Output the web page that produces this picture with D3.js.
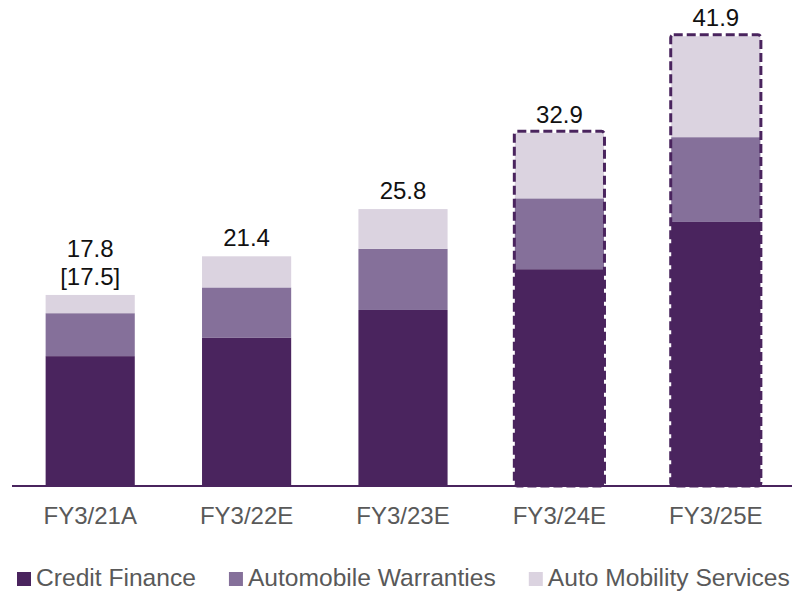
<!DOCTYPE html>
<html>
<head>
<meta charset="utf-8">
<script src="https://cdn.jsdelivr.net/npm/d3@7"></script>
<style>
  body { margin: 0; background: #fff; }
  svg { display: block; font-family: "Liberation Sans", Arial, Helvetica, sans-serif; }
</style>
</head>
<body>
<div id="chart"></div>
<script>
// data
const years = ["FY3/21A", "FY3/22E", "FY3/23E", "FY3/24E", "FY3/25E"];
const creditFinance = [12.1, 13.8, 16.4, 20.2, 24.6];
const autoWarranties = [4.0, 4.7, 5.7, 6.6, 7.9];
const autoMobility = [1.7, 2.9, 3.7, 6.1, 9.4];
const totals = ["17.8", "21.4", "25.8", "32.9", "41.9"];
const subLabels = ["[17.5]", "", "", "", ""];
const forecastBoxed = [false, false, false, true, true];

const seriesNames = ["Credit Finance", "Automobile Warranties", "Auto Mobility Services"];
const colors = ["#4a245e", "#85709a", "#dbd3e0"];

const width = 792;
const height = 594;

const svg = d3
  .select("#chart")
  .append("svg")
  .attr("width", width)
  .attr("height", height);

// build rows for the stack
const rows = years.map((yr, i) => ({
  year: yr,
  "Credit Finance": creditFinance[i],
  "Automobile Warranties": autoWarranties[i],
  "Auto Mobility Services": autoMobility[i]
}));

const stacked = d3.stack().keys(seriesNames)(rows);

// scales
const x = d3
  .scaleBand()
  .domain(years)
  .range([12, 794])
  .paddingInner(0.43)
  .paddingOuter(0.215);

const y = d3.scaleLinear().domain([0, 45]).range([486, 3]);

// stacked segments
svg
  .selectAll("g.layer")
  .data(stacked)
  .enter()
  .append("g")
  .attr("class", "layer")
  .attr("fill", (d, i) => colors[i])
  .selectAll("rect")
  .data(d => d)
  .enter()
  .append("rect")
  .attr("x", d => x(d.data.year))
  .attr("width", x.bandwidth())
  .attr("y", d => y(d[1]))
  .attr("height", d => y(d[0]) - y(d[1]));

// dashed outline round the later forecasts
const topLayer = stacked[stacked.length - 1];
svg
  .selectAll("rect.box")
  .data(topLayer.filter((d, i) => forecastBoxed[i]))
  .enter()
  .append("rect")
  .attr("class", "box")
  .attr("x", d => x(d.data.year) - 0.5)
  .attr("y", d => y(d[1]) - 1.5)
  .attr("width", x.bandwidth() + 1)
  .attr("height", d => y(0) - y(d[1]) + 1.5)
  .attr("rx", 3)
  .attr("fill", "none")
  .attr("stroke", "#4a245e")
  .attr("stroke-width", 3)
  .attr("stroke-dasharray", "9,4");

// total labels
svg
  .selectAll("text.total")
  .data(topLayer)
  .enter()
  .append("text")
  .attr("class", "total")
  .attr("x", d => x(d.data.year) + x.bandwidth() / 2)
  .attr("y", (d, i) => y(d[1]) - 10 - (subLabels[i] ? 28 : 0))
  .attr("text-anchor", "middle")
  .attr("font-size", 24)
  .attr("fill", "#111")
  .text((d, i) => totals[i]);

svg
  .selectAll("text.sub")
  .data(topLayer.filter((d, i) => subLabels[i]))
  .enter()
  .append("text")
  .attr("class", "sub")
  .attr("x", d => x(d.data.year) + x.bandwidth() / 2)
  .attr("y", d => y(d[1]) - 10)
  .attr("text-anchor", "middle")
  .attr("font-size", 24)
  .attr("fill", "#111")
  .text(d => subLabels[years.indexOf(d.data.year)]);

// x axis
const xAxis = d3.axisBottom(x).tickSize(0).tickPadding(21);
const xAxisGroup = svg
  .append("g")
  .attr("transform", `translate(0, ${y(0)})`)
  .call(xAxis);
xAxisGroup.attr("font-family", null).attr("font-size", null);
xAxisGroup.select(".domain").remove();
xAxisGroup
  .selectAll("text")
  .attr("font-size", 24)
  .attr("fill", "#595959");

svg
  .append("line")
  .attr("x1", 12)
  .attr("x2", width)
  .attr("y1", y(0))
  .attr("y2", y(0))
  .attr("stroke", "#4a245e")
  .attr("stroke-width", 2);

// legend, laid out left to right
const legend = svg.append("g").attr("transform", "translate(17, 586)");
let lx = 0;
seriesNames.forEach((name, i) => {
  const item = legend.append("g").attr("transform", `translate(${lx}, 0)`);
  item
    .append("rect")
    .attr("x", 0)
    .attr("y", -14)
    .attr("width", 14)
    .attr("height", 14)
    .attr("fill", colors[i]);
  const t = item
    .append("text")
    .attr("x", 19)
    .attr("y", 0)
    .attr("font-size", 24.6)
    .attr("fill", "#595959")
    .text(name);
  lx += 19 + t.node().getComputedTextLength() + 33;
});
</script>
</body>
</html>
